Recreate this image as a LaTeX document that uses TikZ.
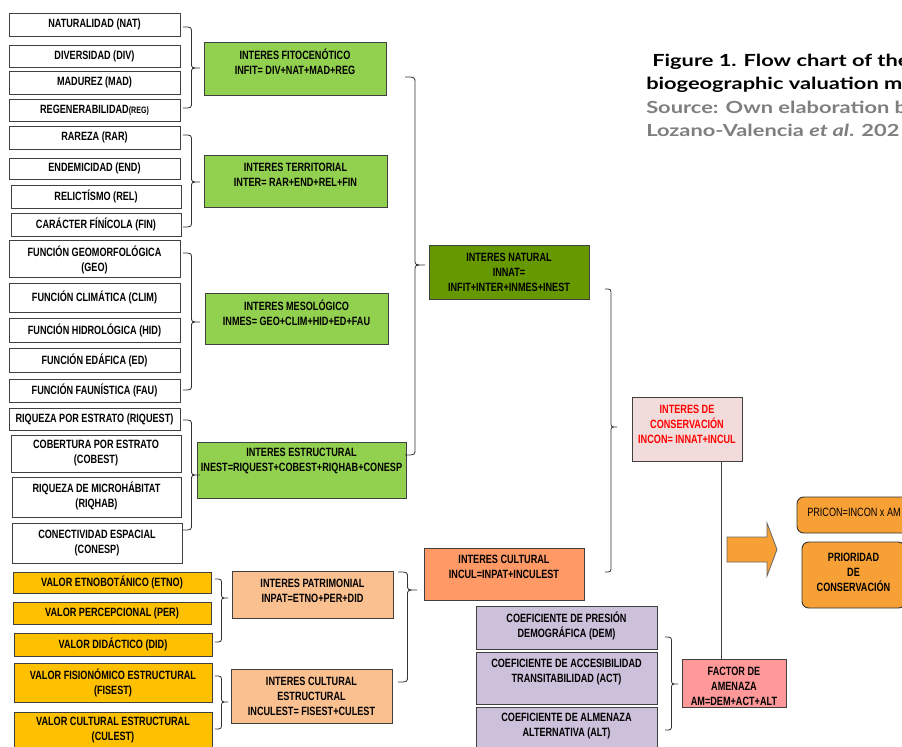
\documentclass[tikz,border=0pt]{standalone}
\usepackage{fontspec}
\usetikzlibrary{calc}
\newfontfamily\boxfont[FakeStretch=0.76]{Liberation Sans}
\newfontfamily\titlefont[FakeStretch=1.31]{Lato}
\definecolor{grn}{HTML}{92D050}
\definecolor{dgrn}{HTML}{669900}
\definecolor{ylw}{HTML}{FFC000}
\definecolor{peach}{HTML}{FAC090}
\definecolor{ornc}{HTML}{FF9966}
\definecolor{lav}{HTML}{CCC0DA}
\definecolor{pinkl}{HTML}{F2DCDB}
\definecolor{pinkd}{HTML}{FF9999}
\definecolor{orng}{HTML}{F7A035}
\definecolor{graytxt}{HTML}{7F7F7F}
\newcommand\bt[6]{%
  \node[#2, anchor=north west, minimum width={(#5-#3)*0.75pt}, minimum height={(#6-#4)*0.75pt}] (#1) at (#3,#4) {};}
\newcommand\btx[4]{\node[txt,#4] (#1-t) at ($(#1.center)+(0,#2)$) {#3};}
\newcommand\rbr[5]{\draw[brc] (#1,#3) .. controls ({(#1+#2)/2},#3) .. ({(#1+#2)/2},{#3+6}) -- ({(#1+#2)/2},{#4-5}) .. controls ({(#1+#2)/2},#4) .. (#2,#4) .. controls ({(#1+#2)/2},#4) .. ({(#1+#2)/2},{#4+5}) -- ({(#1+#2)/2},{#5-6}) .. controls ({(#1+#2)/2},#5) .. (#1,#5);}
\begin{document}
\begin{tikzpicture}[x=0.75pt,y=-0.75pt,
  box/.style={draw=black!75, line width=0.7pt, inner sep=0pt, outer sep=0pt},
  wbox/.style={box, fill=white},
  gbox/.style={box, fill=grn},
  dbox/.style={box, fill=dgrn},
  ybox/.style={box, fill=ylw},
  pbox/.style={box, fill=peach},
  obox/.style={box, fill=ornc},
  lbox/.style={box, fill=lav},
  kbox/.style={box, fill=pinkl},
  rbox/.style={box, fill=pinkd},
  ubox/.style={box, fill=orng, rounded corners=5pt, draw=black!80},
  txt/.style={font=\boxfont\bfseries\fontsize{9}{11.2}\selectfont, align=center, inner sep=0pt},
  brc/.style={draw=black!80, line width=0.6pt},
  ttl/.style={font=\titlefont\bfseries\fontsize{12.5}{15}\selectfont, anchor=base west, inner sep=0pt}]
\useasboundingbox (0,0) rectangle (902,746);
\clip (0,0) rectangle (902,746);
\fill[white] (0,0) rectangle (902,746);
% left column
\bt{nat}{wbox}{9}{13}{180}{36} \btx{nat}{0}{NATURALIDAD (NAT)}{}
\bt{div}{wbox}{9}{45}{180}{67} \btx{div}{0}{DIVERSIDAD (DIV)}{}
\bt{mad}{wbox}{9}{71}{180}{94} \btx{mad}{0}{MADUREZ (MAD)}{}
\bt{reg}{wbox}{9}{99}{180}{121} \btx{reg}{0}{REGENERABILIDAD{\fontsize{7}{8}\selectfont(REG)}}{}
\bt{rar}{wbox}{9}{126}{180}{149} \btx{rar}{0}{RAREZA (RAR)}{}
\bt{end}{wbox}{9}{158}{180}{179} \btx{end}{0}{ENDEMICIDAD (END)}{}
\bt{rel}{wbox}{11}{185}{181}{208} \btx{rel}{0}{RELICTÍSMO (REL)}{}
\bt{fin}{wbox}{11}{213}{181}{236} \btx{fin}{0}{CARÁCTER FÍNÍCOLA (FIN)}{}
\bt{geo}{wbox}{9}{240}{180}{277} \btx{geo}{1}{FUNCIÓN GEOMORFOLÓGICA\\(GEO)}{}
\bt{clim}{wbox}{9}{283}{180}{312} \btx{clim}{0}{FUNCIÓN CLIMÁTICA (CLIM)}{}
\bt{hid}{wbox}{9}{318}{180}{342} \btx{hid}{0}{FUNCIÓN HIDROLÓGICA (HID)}{}
\bt{ed}{wbox}{9}{348}{180}{372} \btx{ed}{0}{FUNCIÓN EDÁFICA (ED)}{}
\bt{fau}{wbox}{9}{379}{180}{402} \btx{fau}{0}{FUNCIÓN FAUNÍSTICA (FAU)}{}
\bt{riquest}{wbox}{9}{408}{180}{430} \btx{riquest}{0}{RIQUEZA POR ESTRATO (RIQUEST)}{}
\bt{cobest}{wbox}{11}{435}{181}{472} \btx{cobest}{0}{COBERTURA POR ESTRATO\\(COBEST)}{}
\bt{riqhab}{wbox}{12}{477}{181}{517} \btx{riqhab}{-1}{RIQUEZA DE MICROHÁBITAT\\(RIQHAB)}{}
\bt{conesp}{wbox}{12}{523}{182}{563} \btx{conesp}{0}{CONECTIVIDAD ESPACIAL\\(CONESP)}{}
\bt{etno}{ybox}{13}{572}{211}{593} \btx{etno}{0}{VALOR ETNOBOTÁNICO (ETNO)}{}
\bt{per}{ybox}{13}{602}{211}{624} \btx{per}{0}{VALOR PERCEPCIONAL (PER)}{}
\bt{did}{ybox}{14}{633}{212}{656} \btx{did}{0}{VALOR DIDÁCTICO (DID)}{}
\bt{fisest}{ybox}{14}{663}{212}{702} \btx{fisest}{0}{VALOR FISIONÓMICO ESTRUCTURAL\\(FISEST)}{}
\bt{culest}{ybox}{14}{712}{212}{752} \btx{culest}{-2}{VALOR CULTURAL ESTRUCTURAL\\(CULEST)}{}
% middle
\bt{infit}{gbox}{204}{42}{386}{95} \btx{infit}{-7}{INTERES FITOCENÓTICO\\INFIT= DIV+NAT+MAD+REG}{}
\bt{inter}{gbox}{204}{155}{387}{207} \btx{inter}{-6}{INTERES TERRITORIAL\\INTER= RAR+END+REL+FIN}{}
\bt{inmes}{gbox}{205}{293}{388}{344} \btx{inmes}{-6}{INTERES MESOLÓGICO\\INMES= GEO+CLIM+HID+ED+FAU}{}
\bt{inest}{gbox}{197}{442}{406}{498} \btx{inest}{-9}{INTERES ESTRUCTURAL\\INEST=RIQUEST+COBEST+RIQHAB+CONESP}{}
\bt{innat}{dbox}{429}{245}{589}{299} \btx{innat}{0}{INTERES NATURAL\\INNAT=\\INFIT+INTER+INMES+INEST}{}
\bt{inpat}{pbox}{232}{571}{393}{618} \btx{inpat}{-4}{INTERES PATRIMONIAL\\INPAT=ETNO+PER+DID}{}
\bt{inculest}{pbox}{231}{669}{392}{723} \btx{inculest}{0}{INTERES CULTURAL\\ESTRUCTURAL\\INCULEST= FISEST+CULEST}{}
\bt{incul}{obox}{424}{548}{584}{600} \btx{incul}{-7}{INTERES CULTURAL\\INCUL=INPAT+INCULEST}{}
\bt{dem}{lbox}{476}{606}{657}{649} \btx{dem}{-2}{COEFICIENTE DE PRESIÓN\\DEMOGRÁFICA (DEM)}{}
\bt{act}{lbox}{476}{652}{657}{704} \btx{act}{-6}{COEFICIENTE DE ACCESIBILIDAD\\TRANSITABILIDAD (ACT)}{}
\bt{alt}{lbox}{476}{707}{657}{752} \btx{alt}{-3}{COEFICIENTE DE ALMENAZA\\ALTERNATIVA (ALT)}{}
\bt{incon}{kbox}{632}{397}{742}{461} \btx{incon}{-5}{INTERES DE\\CONSERVACIÓN\\INCON= INNAT+INCUL}{text=red}
\bt{am}{rbox}{682}{659}{786}{707} \btx{am}{3}{FACTOR DE\\AMENAZA\\AM=DEM+ACT+ALT}{}
\bt{pricon}{ubox}{797}{497}{930}{533}
\node[txt, font=\boxfont\fontsize{9}{11.2}\selectfont, anchor=west] (pricon-t) at ($(pricon.west)+(10,-3)$) {PRICON=INCON x AM};
\bt{prior}{ubox}{802}{542}{905}{608} \btx{prior}{-3}{PRIORIDAD\\DE\\CONSERVACIÓN}{}
% braces
\rbr{183}{200}{27}{68}{108}
\rbr{183}{200}{135}{182}{227}
\rbr{183}{200}{253}{322}{390}
\rbr{183}{200}{420}{475}{530}
\rbr{405}{425}{77}{265}{455}
\rbr{215}{228}{579}{598}{642}
\rbr{215}{228}{676}{702}{729}
\rbr{398}{417}{572}{590}{682}
\rbr{605}{617}{289}{427}{572}
\rbr{665}{678}{637}{684}{730}
% connector
\coordinate (lx) at (721,0);
\draw[black!75, line width=0.7pt] (incon.south -| lx) -- (am.north -| lx);
% block arrow
\filldraw[fill=orng, draw=black!60, line width=0.6pt] (727,537) -- (767,537) -- (767,523) -- (777,549.5) -- (767,576) -- (767,562) -- (727,562) -- cycle;
% title
\node[ttl] (t1) at (652,66) {Figure 1. Flow chart of the};
\node[ttl] (t2) at (646,89) {biogeographic valuation m};
\node[ttl, text=graytxt] (t3) at (646,113) {Source: Own elaboration b};
\node[ttl, text=graytxt] (t4) at (646,136) {Lozano-Valencia \textit{et al}. 202};
\end{tikzpicture}
\end{document}
